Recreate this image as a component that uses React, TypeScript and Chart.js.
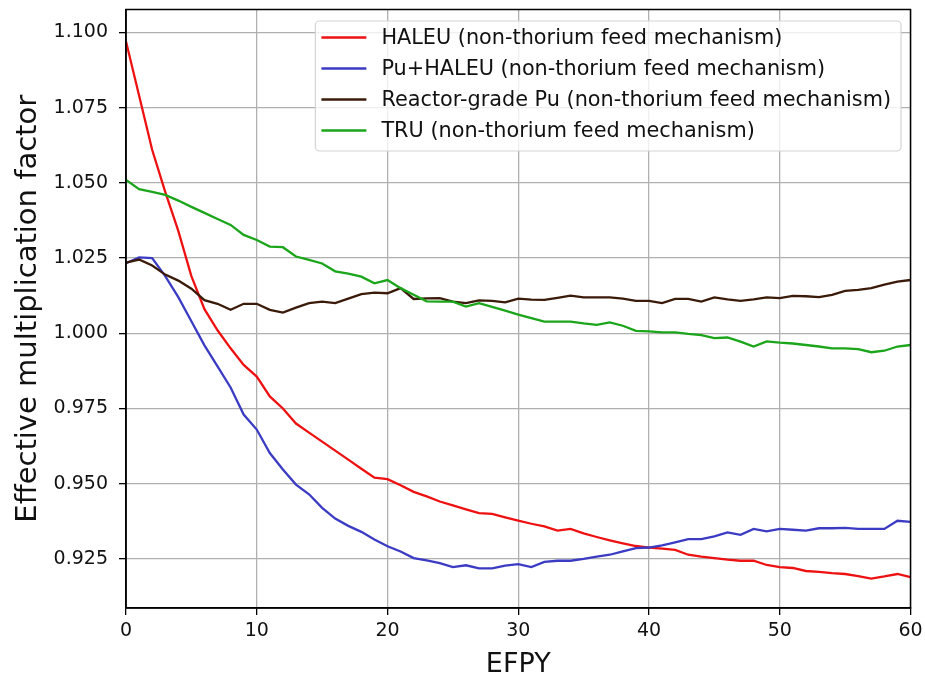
import { useEffect, useRef } from 'react';
import { Chart, registerables } from 'chart.js';

Chart.register(...registerables);

const efpy = [
  0, 1, 2, 3, 4, 5, 6, 7, 8, 9, 10, 11, 12, 13, 14, 15, 16, 17, 18, 19, 20,
  21, 22, 23, 24, 25, 26, 27, 28, 29, 30, 31, 32, 33, 34, 35, 36, 37, 38, 39, 40,
  41, 42, 43, 44, 45, 46, 47, 48, 49, 50, 51, 52, 53, 54, 55, 56, 57, 58, 59, 60,
];

const haleu = [
  1.097, 1.079, 1.061, 1.047, 1.034, 1.019, 1.008, 1.001, 0.995, 0.9895, 0.9856,
  0.979, 0.975, 0.970, 0.967, 0.964, 0.961, 0.958, 0.955, 0.952, 0.9515,
  0.9495, 0.9473, 0.9458, 0.9441, 0.9428, 0.9415, 0.9402, 0.940, 0.9388, 0.9377,
  0.9367, 0.9358, 0.9344, 0.935, 0.9335, 0.9323, 0.9312, 0.9302, 0.9293, 0.9288,
  0.9284, 0.928, 0.9264, 0.9258, 0.9253, 0.9248, 0.9244, 0.9244, 0.923, 0.9223,
  0.922, 0.921, 0.9207, 0.9203, 0.920, 0.9193, 0.9185, 0.9192, 0.920, 0.919,
];

const puHaleu = [
  1.0233, 1.0252, 1.025, 1.019, 1.012, 1.004, 0.996, 0.989, 0.982, 0.973, 0.968,
  0.9602, 0.9547, 0.9497, 0.9465, 0.942, 0.9384, 0.936, 0.934, 0.9315, 0.9292,
  0.9275, 0.9253, 0.9245, 0.9236, 0.9223, 0.9229, 0.9219, 0.9219, 0.9228, 0.9233,
  0.9223, 0.924, 0.9244, 0.9244, 0.925, 0.9258, 0.9264, 0.9275, 0.9286, 0.9288,
  0.9295, 0.9305, 0.9316, 0.9316, 0.9325, 0.9338, 0.933, 0.935, 0.9342, 0.935,
  0.9347, 0.9344, 0.9352, 0.9352, 0.9353, 0.935, 0.935, 0.935, 0.9377, 0.9373,
];

const reactorPu = [
  1.0235, 1.0245, 1.0225, 1.0195, 1.0175, 1.0148, 1.011, 1.0098, 1.0078, 1.0098, 1.0098,
  1.0078, 1.0069, 1.0085, 1.010, 1.0105, 1.010, 1.0115, 1.013, 1.0135, 1.0133,
  1.015, 1.0114, 1.0116, 1.0117, 1.0105, 1.010, 1.0109, 1.0108, 1.0103, 1.0115,
  1.0112, 1.0111, 1.0118, 1.0125, 1.0119, 1.0119, 1.0119, 1.0115, 1.0108, 1.0108,
  1.010, 1.0114, 1.0114, 1.0105, 1.0119, 1.0113, 1.0108, 1.0113, 1.0119, 1.0117,
  1.0124, 1.0123, 1.012, 1.0128, 1.0141, 1.0144, 1.015, 1.0162, 1.0172, 1.0177,
];

const tru = [
  1.051, 1.0479, 1.047, 1.046, 1.0441, 1.042, 1.040, 1.038, 1.036, 1.0327, 1.031,
  1.0288, 1.0286, 1.0255, 1.0244, 1.0232, 1.0206, 1.0198, 1.0188, 1.0166, 1.0177,
  1.015, 1.0128, 1.0106, 1.0105, 1.0105, 1.0089, 1.010, 1.0088, 1.0075, 1.0062,
  1.005, 1.0039, 1.0039, 1.0039, 1.0033, 1.0028, 1.0036, 1.0025, 1.0008, 1.0006,
  1.0003, 1.0003, 0.9998, 0.9994, 0.9984, 0.9986, 0.9972, 0.9956, 0.9973, 0.9969,
  0.9966, 0.9961, 0.9956, 0.995, 0.995, 0.9947, 0.9937, 0.9942, 0.9956, 0.9961,
];

const seriesLabels = [
  'HALEU (non-thorium feed mechanism)',
  'Pu+HALEU (non-thorium feed mechanism)',
  'Reactor-grade Pu (non-thorium feed mechanism)',
  'TRU (non-thorium feed mechanism)',
];
const seriesColors = ['#ee1111', '#3b3bc4', '#3a1a08', '#1aa51a'];
const seriesValues = [haleu, puHaleu, reactorPu, tru];

const FONT = '"DejaVu Sans", "Liberation Sans", sans-serif';

const framePlugin = {
  id: 'frame',
  afterDatasetsDraw(chart: any) {
    const { ctx, chartArea } = chart;
    ctx.save();
    ctx.strokeStyle = '#000';
    ctx.lineWidth = 1.5;
    ctx.strokeRect(chartArea.left, chartArea.top, chartArea.right - chartArea.left, chartArea.bottom - chartArea.top);
    ctx.restore();
  },
};

const insideLegendPlugin = {
  id: 'insideLegend',
  afterDraw(chart: any) {
    const { ctx, chartArea } = chart;
    const ds = chart.data.datasets;
    ctx.save();
    ctx.font = `20.8px ${FONT}`;
    const maxW = Math.max(...ds.map((d: any) => ctx.measureText(d.label).width));
    const padL = 6, lineLen = 45, gap = 15, padR = 10, rowH = 31;
    const w = padL + lineLen + gap + maxW + padR;
    const right = chartArea.right - 9.5;
    const left = right - w;
    const top = chartArea.top + 11.5;
    const h = 16.5 + rowH * (ds.length - 1) + 20.5;
    ctx.beginPath();
    if (ctx.roundRect) ctx.roundRect(left, top, w, h, 4);
    else ctx.rect(left, top, w, h);
    ctx.fillStyle = 'rgba(255,255,255,0.8)';
    ctx.fill();
    ctx.strokeStyle = '#d4d4d4';
    ctx.lineWidth = 1.2;
    ctx.stroke();
    ds.forEach((d: any, i: number) => {
      const y = top + 16.5 + i * rowH;
      ctx.beginPath();
      ctx.moveTo(left + padL, y);
      ctx.lineTo(left + padL + lineLen, y);
      ctx.strokeStyle = d.borderColor;
      ctx.lineWidth = 2.4;
      ctx.stroke();
      ctx.fillStyle = '#111';
      ctx.textBaseline = 'middle';
      ctx.textAlign = 'left';
      ctx.fillText(d.label, left + padL + lineLen + gap, y + 1.5);
    });
    ctx.restore();
  },
};

export default function App() {
  const canvasRef = useRef<HTMLCanvasElement | null>(null);

  useEffect(() => {
    document.body.style.margin = '0';
    const canvas = canvasRef.current;
    if (!canvas) return;
    const datasets = seriesValues.map((vals, i) => ({
      label: seriesLabels[i],
      data: vals.map((v, j) => ({ x: efpy[j], y: v })),
      borderColor: seriesColors[i],
      backgroundColor: seriesColors[i],
      borderWidth: 2.3,
      pointRadius: 0,
      tension: 0,
      fill: false,
      order: seriesValues.length - i,
    }));
    const chart = new Chart(canvas, {
      type: 'line',
      data: { datasets },
      plugins: [framePlugin, insideLegendPlugin],
      options: {
        animation: false,
        responsive: false,
        devicePixelRatio: 1,
        layout: { padding: { top: 9.5, right: 14.5, left: 0, bottom: 0 } },
        plugins: {
          legend: { display: false },
          tooltip: { enabled: false },
        },
        scales: {
          x: {
            type: 'linear',
            min: 0,
            max: 60,
            ticks: {
              stepSize: 10,
              color: '#111',
              padding: 5,
              font: { family: FONT, size: 19 },
              includeBounds: false,
            },
            grid: { color: '#b0b0b0', lineWidth: 1.3, tickColor: '#000', tickLength: 7, tickWidth: 1.3 },
            border: { color: '#000', width: 1.5 },
            title: {
              display: true,
              text: 'EFPY',
              color: '#111',
              font: { family: FONT, size: 27, lineHeight: 0.8 },
              padding: 0,
            },
            afterFit: (scale: any) => {
              scale.height = 68;
              scale.paddingLeft = 0;
              scale.paddingRight = 0;
            },
          },
          y: {
            type: 'linear',
            min: 0.9087,
            max: 1.1076,
            ticks: {
              stepSize: 0.025,
              color: '#111',
              padding: 11,
              font: { family: FONT, size: 19 },
              includeBounds: false,
              callback: (v: any) => Number(v).toFixed(3),
            },
            grid: { color: '#b0b0b0', lineWidth: 1.3, tickColor: '#000', tickLength: 7, tickWidth: 1.3 },
            border: { color: '#000', width: 1.5 },
            title: {
              display: true,
              text: 'Effective multiplication factor',
              color: '#111',
              font: { family: FONT, size: 29, lineHeight: 1 },
              padding: { top: 14, bottom: 0 },
            },
            afterFit: (scale: any) => {
              scale.width = 126;
              scale.paddingTop = 0;
              scale.paddingBottom = 0;
            },
          },
        },
      },
    });
    return () => chart.destroy();
  }, []);

  return (
    <div style={{ width: 925, height: 676 }}>
      <canvas ref={canvasRef} width={925} height={676} style={{ display: 'block' }} />
    </div>
  );
}
